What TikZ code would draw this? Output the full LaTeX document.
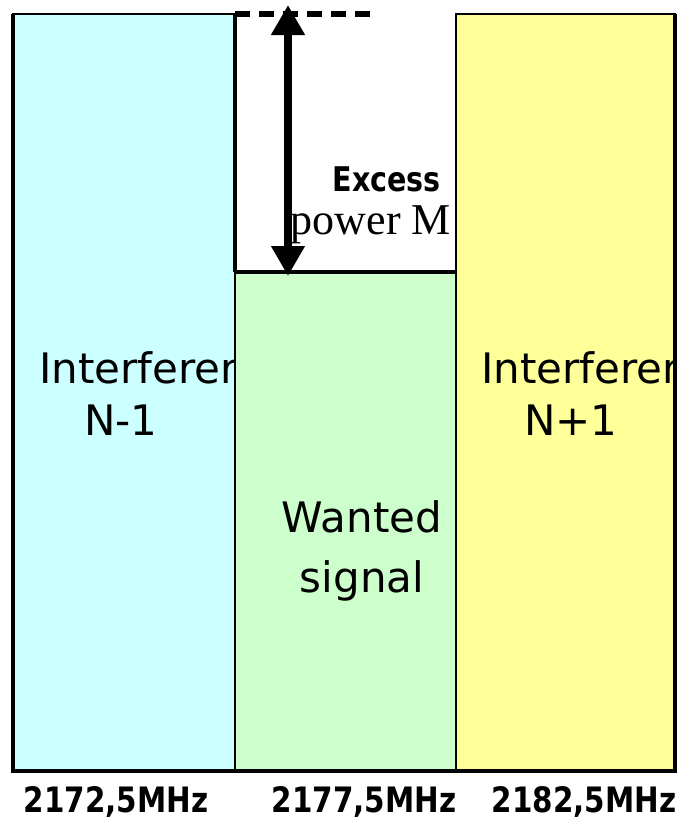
\documentclass[tikz,border=0pt]{standalone}
\usepackage{fontspec}
\usetikzlibrary{arrows.meta}
\setmainfont{Liberation Serif}
\newfontfamily\dvs{DejaVu Sans}
\newfontfamily\dvsc{DejaVu Sans}[FakeStretch=0.84]
\definecolor{cyanbox}{HTML}{CCFFFF}
\definecolor{greenbox}{HTML}{CCFFCC}
\definecolor{yellowbox}{HTML}{FFFF99}
\tikzset{
  box/.style={draw=black,line width=2.5pt},
  lbl/.style={font=\dvs\fontsize{42}{52}\selectfont,inner sep=0pt},
  freq/.style={font=\dvsc\bfseries\fontsize{35}{35}\selectfont,inner sep=0pt,anchor=base},
  bigarrow/.style={line width=8pt,{Triangle[width=32pt,length=30pt]}-{Triangle[width=32pt,length=30pt]}},
  dashline/.style={line width=6pt,dash pattern=on 15pt off 9pt}
}
\begin{document}
\begin{tikzpicture}[x=1pt,y=-1pt]
\useasboundingbox (0,0) rectangle (682,827);
% boxes
\path[box,fill=cyanbox] (13,14) rectangle (235,771);
\path[box,fill=greenbox] (235,272) rectangle (456,771);
\path[box,fill=yellowbox] (456,14) rectangle (675,771);
\draw[line width=4pt] (235,14) -- (235,272);
\draw[line width=4.5pt] (235,272) -- (456,272);
\draw[line width=4.5pt] (11,771) -- (677,771);
\draw[line width=4pt] (13,14) -- (13,771);
\draw[line width=4pt] (675,14) -- (675,771);
% dashed top line
\coordinate (dl) at (235,14);
\coordinate (dr) at (376,14);
\draw[dashline] (dl) -- (dr);
% arrow
\coordinate (atop) at (288,5);
\coordinate (abot) at (288,276);
\draw[bigarrow] (atop) -- (abot);
% excess power text
\node[font=\dvsc\bfseries\fontsize{34}{34}\selectfont,inner sep=0pt,text depth=0pt,anchor=base east] (exc) at (441,191) {Excess};
\node[font=\fontsize{44}{44}\selectfont,inner sep=0pt,text height=29pt,text depth=9pt,anchor=base east] (pwr) at (451,234) {power M};
% interferer texts (clipped)
\begin{scope}
\clip (14,15) rectangle (233.5,770);
\node[lbl,anchor=base west] (int1) at (39,383) {Interferer};
\end{scope}
\node[lbl,anchor=base] (n1) at (121,435) {N-1};
\begin{scope}
\clip (457,15) rectangle (674,770);
\node[lbl,anchor=base west] (int2) at (481,383) {Interferer};
\end{scope}
\node[lbl,anchor=base] (n2) at (571,435) {N+1};
% wanted signal
\node[lbl,anchor=base] (want) at (362,532) {Wanted};
\node[lbl,anchor=base] (sig) at (362,592) {signal};
% frequencies
\node[freq] (f1) at (116,812) {2172,5MHz};
\node[freq] (f2) at (364,812) {2177,5MHz};
\node[freq] (f3) at (584,812) {2182,5MHz};
\end{tikzpicture}
\end{document}
